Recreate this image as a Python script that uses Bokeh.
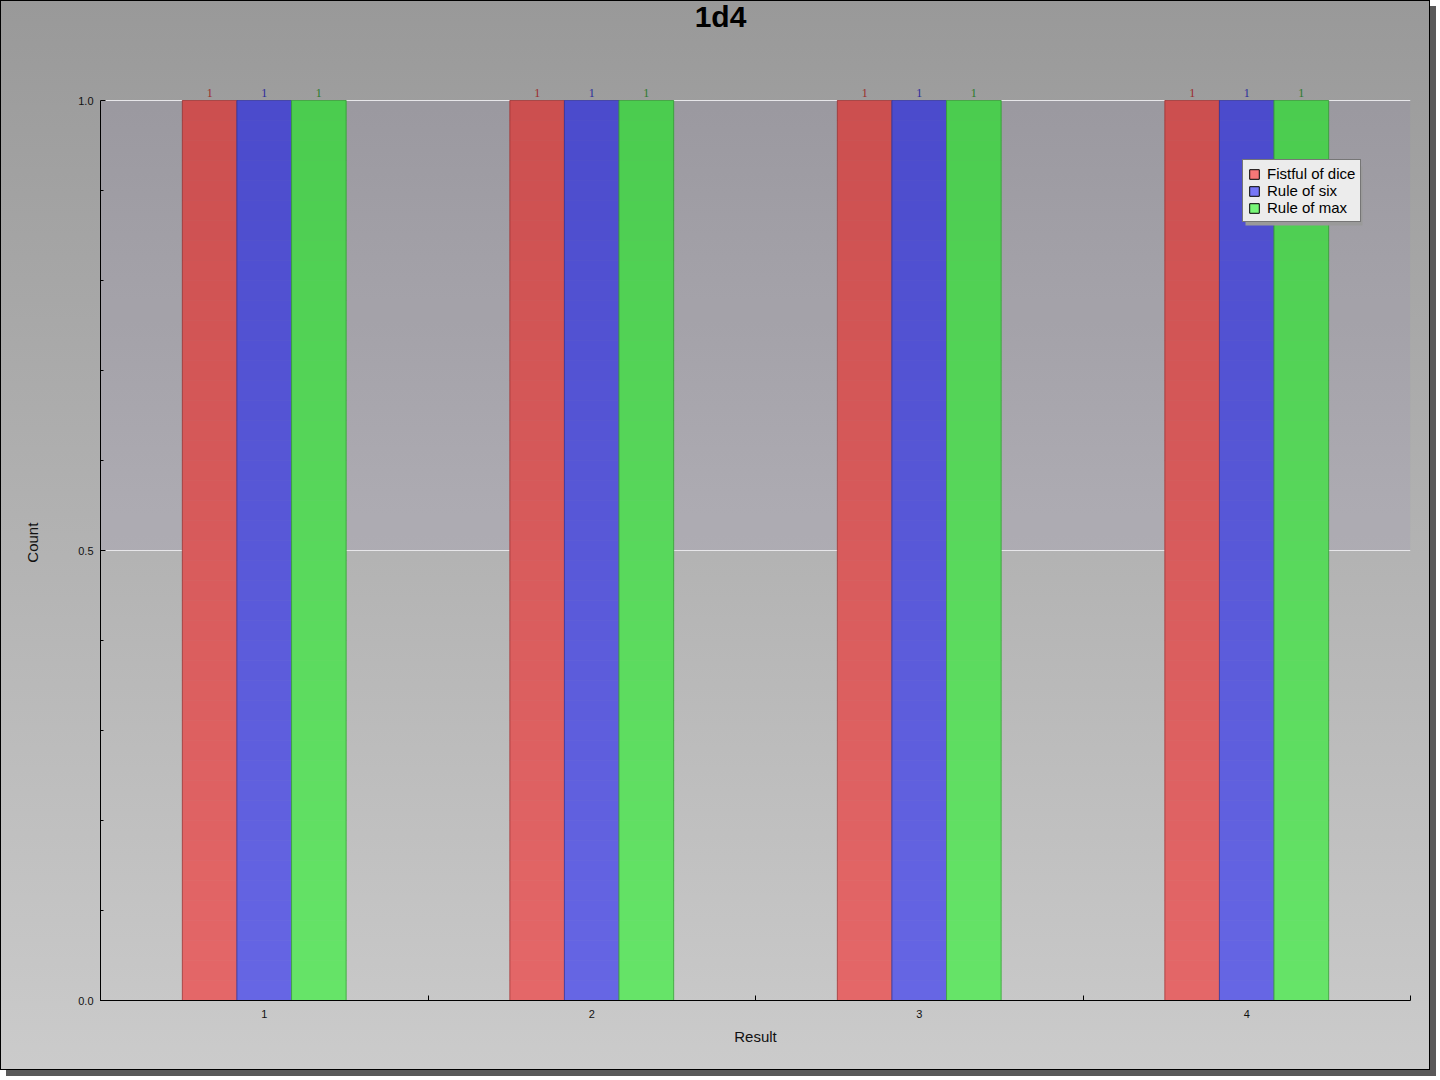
from bokeh.plotting import figure
from bokeh.models import (ColumnDataSource, Range1d, FixedTicker, LabelSet, Label,
                          BoxAnnotation, Legend, LegendItem, NumeralTickFormatter)
from bokeh.embed import file_html
from bokeh.resources import INLINE

# ---- data ----
title_text = "1d4"
results = [1, 2, 3, 4]
series_names = ["Fistful of dice", "Rule of six", "Rule of max"]
fistful = [1, 1, 1, 1]
rule_six = [1, 1, 1, 1]
rule_max = [1, 1, 1, 1]
y_ticks = [0.0, 0.5, 1.0]
y_minor = [0.1, 0.2, 0.3, 0.4, 0.6, 0.7, 0.8, 0.9]
x_label = "Result"
y_label = "Count"

FONT = "Liberation Sans"

# styles: (top colour, bottom colour, outline colour, label colour, legend swatch)
styles_ = [
    ((204, 79, 79), (228, 103, 104), "#8a3030", "#9b2b2b", "#f77777"),
    ((75, 75, 204), (102, 102, 228), "#30308a", "#2b2b9b", "#7777f7"),
    ((75, 204, 79), (102, 228, 104), "#308a30", "#2b7b2b", "#77f777"),
]
series_vals = [fistful, rule_six, rule_max]

# frame reaches to the top of the canvas so that title / value labels are not clipped
Y_TOP = 1.0 + 99.0 / 900.0

p = figure(width=1430, height=1070,
           x_range=Range1d(0.5, 4.5), y_range=Range1d(0, Y_TOP),
           output_backend="svg", toolbar_location=None,
           min_border_left=99, min_border_right=21,
           min_border_top=0, min_border_bottom=71,
           background_fill_color=None, border_fill_color=None,
           outline_line_color=None,
           styles={"background": "linear-gradient(to bottom, #999999 0%, #cbcbcb 100%)",
                   "border": "1px solid black",
                   "box-shadow": "6px 6px 0 0 #595959"})

# tinted upper band
p.add_layout(BoxAnnotation(bottom=0.5, top=1.0, fill_color=(140, 120, 190),
                           fill_alpha=0.1, line_color=None, level="underlay"))

# grid
p.xgrid.visible = False
p.ygrid.ticker = FixedTicker(ticks=[0.5, 1.0])
p.ygrid.grid_line_color = "#ececec"
p.ygrid.grid_line_width = 1

N = 45
bar_w = 1.0 / 6.0
offsets = [-bar_w, 0.0, bar_w]


def mix(c_bottom, c_top, t):
    return "#%02x%02x%02x" % tuple(int(round(b + (a - b) * t)) for a, b in zip(c_top, c_bottom))


legend_items = []
for k, vals in enumerate(series_vals):
    top_c, bot_c, dark, lab_c, sw = styles_[k]
    off = offsets[k]
    xs, bots, tops, cols = [], [], [], []
    for r, v in zip(results, vals):
        for i in range(N):
            xs.append(r + off)
            bots.append(v * i / N)
            tops.append(v * (i + 1) / N)
            cols.append(mix(bot_c, top_c, (v * (i + 0.5) / N)))
    src = ColumnDataSource(dict(x=xs, bottom=bots, top=tops, c=cols))
    p.vbar(x="x", bottom="bottom", top="top", width=bar_w, source=src,
           fill_color="c", line_color="c", line_width=0.6)
    # outline
    osrc = ColumnDataSource(dict(x=[r + off for r in results], top=vals,
                                 lab=[str(v) for v in vals]))
    p.vbar(x="x", top="top", width=bar_w, source=osrc, fill_color=None,
           line_color=dark, line_alpha=0.6, line_width=1)
    p.add_layout(LabelSet(x="x", y="top", text="lab", source=osrc,
                          text_align="center", text_baseline="bottom", y_offset=4,
                          text_font_size="12px", text_font=FONT, text_color=lab_c))
    # legend proxy (kept outside the visible x range)
    dr = p.vbar(x=[-100], top=[0.0], width=0.1, fill_color=sw, line_color="black",
                line_width=1)
    legend_items.append(LegendItem(label=series_names[k], renderers=[dr]))

# axes
xa = p.xaxis[0]
xa.ticker = FixedTicker(ticks=results, minor_ticks=[0.5, 1.5, 2.5, 3.5, 4.5])
xa.major_tick_line_color = None
xa.minor_tick_in = 5
xa.minor_tick_out = 0
xa.minor_tick_line_color = "black"
xa.axis_line_color = "black"
xa.major_label_text_font = FONT
xa.major_label_text_font_size = "11px"
xa.major_label_text_color = "#111111"
xa.major_label_standoff = 3
xa.axis_label = x_label
xa.axis_label_text_font = FONT
xa.axis_label_text_font_size = "15px"
xa.axis_label_text_font_style = "normal"
xa.axis_label_text_color = "#111111"
xa.axis_label_standoff = 7

ya = p.yaxis[0]
ya.bounds = (0, 1)
ya.ticker = FixedTicker(ticks=y_ticks, minor_ticks=y_minor)
ya.formatter = NumeralTickFormatter(format="0.0")
ya.major_tick_in = 5
ya.major_tick_out = 0
ya.minor_tick_in = 3
ya.minor_tick_out = 0
ya.major_tick_line_color = "black"
ya.minor_tick_line_color = "black"
ya.axis_line_color = "black"
ya.major_label_text_font = FONT
ya.major_label_text_font_size = "11px"
ya.major_label_text_color = "#111111"
ya.major_label_standoff = 7
# the frame is taller than the 0..1 axis span; non-breaking spaces re-centre the label on it
ya.axis_label = y_label + "\u00a0" * 20
ya.axis_label_text_font = FONT
ya.axis_label_text_font_size = "15px"
ya.axis_label_text_font_style = "normal"
ya.axis_label_text_color = "#111111"
ya.axis_label_standoff = 34

# title, at the top of the canvas (screen units are relative to the frame)
p.add_layout(Label(x=620, y=984, x_units="screen", y_units="screen", text=title_text,
                   text_align="center", text_baseline="alphabetic", text_font=FONT,
                   text_font_size="30px", text_font_style="bold", text_color="black"))

# legend shadow and legend
LEG_TOP = 837
LEG_H = 59
p.add_layout(BoxAnnotation(left=1145, right=1262, top=LEG_TOP - 3, bottom=LEG_TOP - 3 - LEG_H,
                           left_units="screen", right_units="screen",
                           top_units="screen", bottom_units="screen",
                           fill_color="#9a9a9a", fill_alpha=1.0, line_color=None))
legend = Legend(items=legend_items, location=(1142, LEG_TOP - LEG_H),
                label_text_font=FONT, label_text_font_size="15px",
                label_text_color="black", glyph_width=12, glyph_height=12,
                label_height=14, label_standoff=7, padding=5, spacing=0,
                margin=0, border_line_color="black", border_line_width=1,
                background_fill_color="#ececec", background_fill_alpha=1.0)
p.add_layout(legend, "center")

open("out.html", "w").write(file_html(p, INLINE))
